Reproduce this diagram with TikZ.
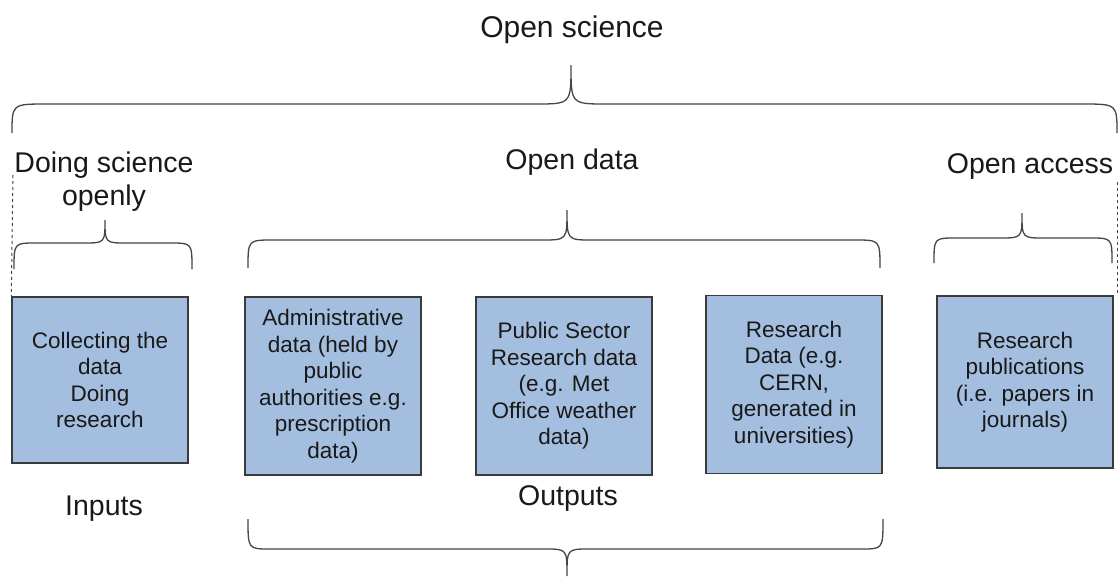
\documentclass[tikz,border=0pt]{standalone}
\usepackage{fontspec}
\setmainfont{Liberation Sans}

\definecolor{boxfill}{RGB}{164,190,223}
\definecolor{boxline}{RGB}{58,58,58}
\definecolor{braceline}{RGB}{70,70,70}
\definecolor{textcol}{RGB}{25,25,25}

% brace: left x, right x, tip x, end y, line y, tip y, corner size
\newcommand{\drawbrace}[7]{%
  \draw[brace_line] (#1,#4) .. controls (#1,#5) .. ({#1+#7},#5) -- ({#3-#7},#5)
    .. controls (#3,#5) .. (#3,#6) .. controls (#3,#5) .. ({#3+#7},#5)
    -- ({#2-#7},#5) .. controls (#2,#5) .. (#2,#4);}

\begin{document}
\begin{tikzpicture}[x=1pt,y=-1pt,
  data_box/.style={rectangle,draw=boxline,fill=boxfill,line width=1.4pt,inner sep=0pt,
    minimum width=176pt,align=center,text=textcol,font=\fontsize{22.5}{26.5}\selectfont},
  big_label/.style={align=center,text=textcol,font=\fontsize{28.5}{33}\selectfont},
  brace_line/.style={draw=braceline,line width=1.3pt},
  guide_line/.style={draw=braceline,dashed,line width=1pt}]

	\path[use as bounding box,fill=white] (0,0) rectangle (1119,576);

	% the five boxes
	\node[data_box,minimum height=166pt] (collect) at (100,380) {Collecting the\\data\\Doing\\research};
	\node[data_box,minimum height=178pt] (admin) at (333,386) {Administrative\\data (held by\\public\\authorities e.g.\\prescription\\data)};
	\node[data_box,minimum height=178pt] (sector) at (564,386) {Public Sector\\Research data\\(e.g. Met\\Office weather\\data)};
	\node[data_box,minimum height=178pt] (resdata) at (794,384.5) {Research\\Data (e.g.\\CERN,\\generated in\\universities)};
	\node[data_box,minimum height=172pt] (pubs) at (1025,382) {Research\\publications\\(i.e. papers in\\journals)};

	% labels (base = last line)
	\node[big_label,anchor=base,font=\fontsize{30}{34}\selectfont] (opensci) at (572,37) {Open science};
	\node[big_label,anchor=base] (doing) at (104,205) {Doing science\\openly};
	\node[big_label,anchor=base] (opendata) at (572,169) {Open data};
	\node[big_label,anchor=base] (openacc) at (1030,173) {Open access};
	\node[big_label,anchor=base] (inputs) at (104,515) {Inputs};
	\node[big_label,anchor=base] (outputs) at (568,505) {Outputs};

	% braces
	\drawbrace{12}{1117}{571}{133}{104}{65}{35}
	\drawbrace{14}{192}{105}{269}{243}{220}{22}
	\drawbrace{248}{880}{567}{268}{240}{210}{25}
	\drawbrace{934}{1112}{1022}{263}{238}{213}{22}
	\drawbrace{248}{883}{567}{519}{549}{576}{22}

	% dashed guides
	\coordinate (dl_top) at (13,175);
	\coordinate (dr_top) at (1117,182);
	\coordinate (dr_bot) at (1117,296);
	\draw[guide_line] (dl_top) -- (collect.north west);
	\draw[guide_line] (dr_top) -- (dr_bot);

\end{tikzpicture}
\end{document}
